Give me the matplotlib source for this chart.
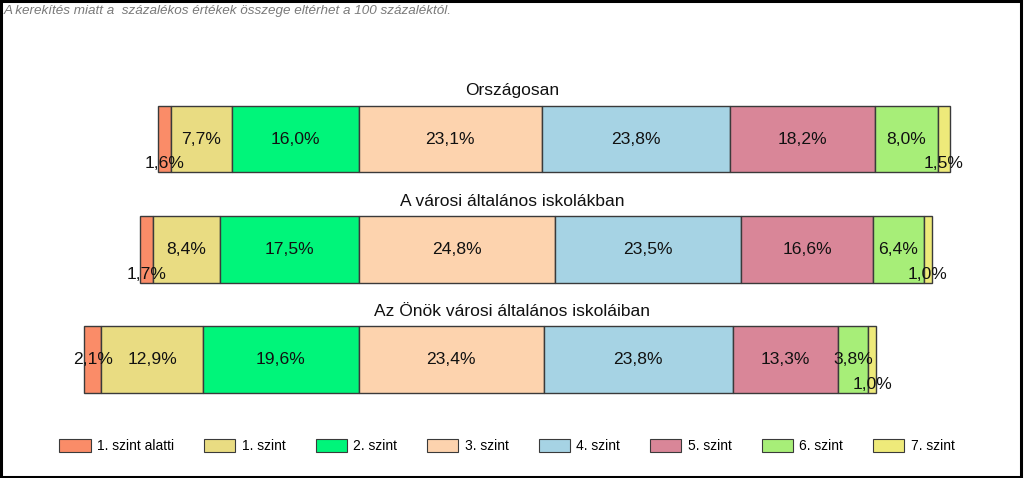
import matplotlib
matplotlib.use("Agg")
import matplotlib.pyplot as plt
from matplotlib.patches import Rectangle, Patch

plt.rcParams['font.family'] = ['Liberation Sans', 'DejaVu Sans']

levels = ["1. szint alatti", "1. szint", "2. szint", "3. szint",
          "4. szint", "5. szint", "6. szint", "7. szint"]
groups = ["Országosan", "A városi általános iskolákban",
          "Az Önök városi általános iskoláiban"]
orszagosan = [1.6, 7.7, 16.0, 23.1, 23.8, 18.2, 8.0, 1.5]
varosi = [1.7, 8.4, 17.5, 24.8, 23.5, 16.6, 6.4, 1.0]
onok = [2.1, 12.9, 19.6, 23.4, 23.8, 13.3, 3.8, 1.0]
series = [orszagosan, varosi, onok]

colors = ["#FA8C68", "#E9DC82", "#00F57A", "#FDD3AE",
          "#A6D3E4", "#D98698", "#A7EE78", "#EEEA7A"]
note = "A kerekítés miatt a  százalékos értékek összege eltérhet a 100 százaléktól."

W, H = 1024, 478
fig = plt.figure(figsize=(W / 100, H / 100), dpi=100)
ax = fig.add_axes([0, 0, 1, 1])
ppp = 7.925          # pixels per percent
anchor = 358.6       # pixel position of boundary between 2. and 3. szint
ax.set_xlim(-anchor / ppp, (W - anchor) / ppp)
ax.set_ylim(H, 0)
ax.axis("off")

ycent = [139, 249.5, 359.7]
bh = 66.5
for g, vals, yc in zip(groups, series, ycent):
    left = -sum(vals[:3])
    for i, v in enumerate(vals):
        ax.barh(yc, v, left=left, height=bh, color=colors[i],
                edgecolor="#3a3a3a", linewidth=1.0)
        dy = 25 if v < 2.0 else 0
        ax.text(left + v / 2, yc + dy, f"{v:.1f}%".replace(".", ","),
                ha="center", va="center", fontsize=12.6, color="#111111")
        left += v
    ax.text((W / 2 - anchor) / ppp, yc - bh / 2 - 15, g, ha="center",
            va="center", fontsize=12.5, color="#111111")

fig.text(4 / W, 1 - 11 / H, note, ha="left", va="center", fontsize=9.7,
         style="italic", color="#7a7a7a")

handles = [Patch(facecolor=c, edgecolor="#3a3a3a", linewidth=0.8) for c in colors]
fig.legend(handles, levels, ncol=8, loc="center",
           bbox_to_anchor=(507 / W, 1 - 446 / H), frameon=False,
           fontsize=10, handlelength=2.25, handleheight=1.1,
           handletextpad=0.45, columnspacing=2.17)

fig.add_artist(Rectangle((0.001, 0.003), 0.996, 0.994, transform=fig.transFigure,
                         fill=False, edgecolor="black", linewidth=2.2))

fig.savefig("out.png", dpi=100)
